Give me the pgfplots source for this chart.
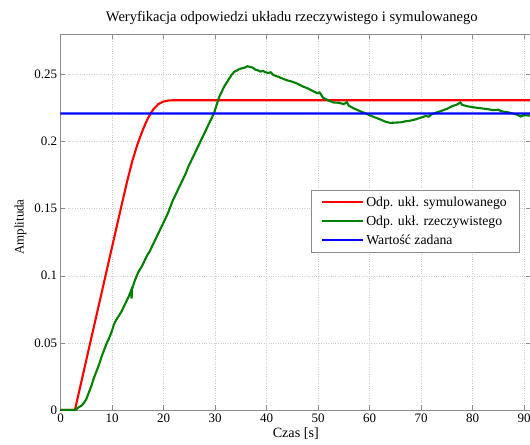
\documentclass[border=0pt]{standalone}
\usepackage{pgfplots}
\pgfplotsset{compat=1.18}
\usepackage{fontspec}
\setmainfont{Liberation Serif}
\colorlet{axgray}{black!45}
\newcommand{\fs}{\fontsize{13}{15}\selectfont}
\newcommand{\fst}{\fontsize{13.8}{16}\selectfont}

\begin{document}
\begin{tikzpicture}
\begin{axis}[
    name=ax,
    scale only axis,
    width=470.5bp, height=376bp,
    xmin=0, xmax=91.35,
    ymin=0, ymax=0.28,
    xtick={0,10,...,90},
    ytick={0,0.05,0.1,0.15,0.2,0.25},
    yticklabels={0,0.05,0.1,0.15,0.2,0.25},
    /pgf/number format/assume math mode=true,
    tick label style={font=\fs},
    tick align=inside,
    major tick length=5bp,
    axis line style={axgray},
    every tick/.append style={axgray},
    grid=major,
    major grid style={dotted, gray!40},
    title={Weryfikacja odpowiedzi układu rzeczywistego i symulowanego},
    title style={font=\fontsize{14.6}{17}\selectfont, at={(axis description cs:0.5,1)}, anchor=center, yshift=10bp, xshift=-4bp},
    xlabel={Czas [s]},
    xlabel style={font=\fontsize{14.2}{17}\selectfont, at={(axis description cs:0.5,0)}, anchor=center, yshift=-24bp},
    ylabel={Amplituda},
    ylabel style={font=\fs, at={(axis description cs:0,0.5)}, anchor=center, yshift=40bp, xshift=-5bp},
    legend style={font=\fst, at={(rel axis cs:0.9745,0.585)}, anchor=north east,
                  draw=axgray, row sep=4pt, inner xsep=10bp, inner ysep=4.5bp},
    legend cell align=left,
    legend image code/.code={\draw[#1, line width=2.1bp] (0cm,0cm) -- (1.45cm,0cm);},
    every axis plot/.append style={line width=2.1bp},
]
\addplot[red] coordinates {
 (0,0) (2.8,0) (4,0.0202) (6,0.0539) (8,0.0875) (10,0.1212) (12,0.1548)
 (13,0.1712) (14,0.1862) (15,0.1985) (16,0.2088) (17,0.2175) (18,0.2238)
 (19,0.2278) (20,0.2297) (21,0.2305) (22,0.2307) (91.35,0.2307)
};
\addlegendentry{Odp. ukł. symulowanego\hspace{6bp}}
\addplot[green!50!black] coordinates {
 (0,0) (2.9,0) (3.5,0.002) (4,0.003) (4.5,0.005) (5,0.008) (5.5,0.013)
 (6,0.018) (6.5,0.024) (7,0.029) (7.5,0.034) (8,0.040) (8.5,0.045)
 (9,0.050) (9.5,0.054) (10,0.059) (10.4,0.064) (10.8,0.067) (11.3,0.070)
 (11.8,0.073) (12.3,0.077) (12.8,0.081) (13.3,0.085) (13.7,0.089)
 (13.8,0.083) (13.9,0.090) (14.3,0.095) (14.8,0.100) (15.3,0.104)
 (15.8,0.107) (16.3,0.111) (16.8,0.115) (17.3,0.118) (17.8,0.122)
 (18.3,0.126) (18.8,0.130) (19.3,0.134) (19.8,0.138) (20.3,0.142)
 (20.8,0.146) (21.3,0.151) (21.8,0.156) (22.3,0.160) (22.8,0.164)
 (23.3,0.168) (23.8,0.172) (24.3,0.176) (24.8,0.181) (25.3,0.185)
 (25.8,0.189) (26.3,0.193) (26.8,0.197) (27.3,0.201) (27.8,0.205)
 (28.3,0.209) (28.8,0.213) (29.3,0.217) (29.8,0.221) (30.3,0.227)
 (30.8,0.233) (31.3,0.237) (31.8,0.241) (32.3,0.244) (32.8,0.247)
 (33.3,0.250) (33.8,0.252) (34.3,0.253) (34.8,0.254) (35.3,0.2545)
 (35.8,0.255) (36.3,0.256) (36.8,0.2555) (37.3,0.255) (37.8,0.2535)
 (38.3,0.253) (38.8,0.252) (39.3,0.2525) (39.8,0.2515) (40.3,0.251)
 (40.8,0.2515) (41.3,0.2495) (42,0.2485) (43,0.247) (44,0.2455)
 (45,0.2445) (46,0.243) (47,0.241) (48,0.2395) (49,0.2375) (49.8,0.236)
 (50.3,0.2365) (51,0.2325) (52,0.2305) (53,0.2290) (54,0.2288)
 (55,0.2278) (55.6,0.2292) (56,0.2265) (57,0.2245) (58,0.2228)
 (59,0.2212) (60,0.2195) (61,0.2180) (62,0.2165) (63,0.2148)
 (64,0.2138) (65,0.2140) (66,0.2142) (67,0.2150) (68,0.2155)
 (69,0.2165) (70,0.2178) (71,0.2190) (71.5,0.2184) (72,0.2202)
 (73,0.2215) (74,0.2228) (75,0.2242) (76,0.2262) (77,0.2275)
 (77.6,0.2290) (78,0.2272) (79,0.2262) (80,0.2255) (81,0.2250)
 (82,0.2245) (83,0.2240) (84,0.2233) (85,0.2236) (85.5,0.2226)
 (86,0.2222) (87,0.2216) (88,0.2206) (88.6,0.2200) (89.3,0.2186)
 (90,0.2195) (91.35,0.2192)
};
\addlegendentry{Odp. ukł. rzeczywistego}
\addplot[blue] coordinates {
 (0,0.2208) (30,0.22081) (60,0.2208) (91.35,0.22081)
};
\addlegendentry{Wartość zadana}
\end{axis}
\pgfresetboundingbox
\path ([xshift=-60.5bp,yshift=-35bp]ax.south west) rectangle ([xshift=-1bp,yshift=34bp]ax.north east);
\end{tikzpicture}
\end{document}
